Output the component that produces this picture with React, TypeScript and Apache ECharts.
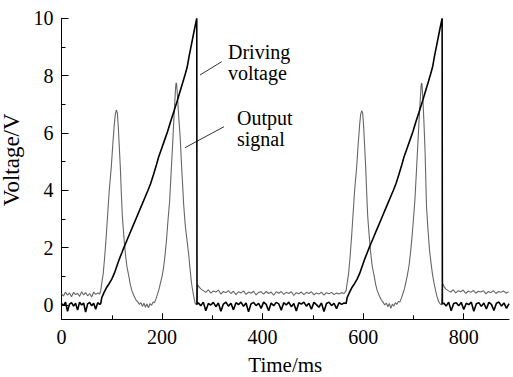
import React, { useEffect, useRef } from 'react';
import * as echarts from 'echarts';

// ---------- data ----------
const xMajorTicks = [0, 200, 400, 600, 800];
const xMinorTicks = [100, 300, 500, 700];
const yMajorTicks = [0, 2, 4, 6, 8, 10];
const yMinorTicks = [1, 3, 5, 7, 9];

const xName = 'Time/ms';
const yName = 'Voltage/V';
const drivingLabel = 'Driving\nvoltage';
const outputLabel = 'Output\nsignal';

// Driving voltage (black), [time ms, volts]
const drivingVoltage: [number, number][] = [
  [0, 0.05], [4, -0.02], [8, 0.1], [12, -0.22], [16, 0.03], [20, 0.08], [24, -0.04], [28, 0.06], [32, -0.18], [36, 0.1],
  [40, 0.0], [44, 0.07], [48, -0.25], [52, 0.04], [56, 0.09], [60, -0.03], [64, 0.06], [68, -0.15], [72, 0.08], [76, 0.02],
  [78, 0.05], [80, 0.25], [85, 0.45], [90, 0.62], [95, 0.75], [100, 0.9], [105, 1.1], [110, 1.35], [115, 1.6], [120, 1.82],
  [124, 2.0], [130, 2.25], [136, 2.5], [142, 2.75], [148, 3.0], [154, 3.25], [160, 3.5], [166, 3.75], [172, 4.0], [177, 4.22],
  [183, 4.55], [189, 4.9], [193, 5.15], [199, 5.45], [205, 5.75], [211, 6.05], [217, 6.4], [223, 6.72], [229, 7.05], [235, 7.4],
  [241, 7.75], [246, 8.05], [250, 8.3], [254, 8.7], [258, 9.05], [262, 9.4], [266, 9.75], [269, 10.0], [269.5, 0.02],
  [272, 0.08], [277, -0.03], [282, 0.1], [287, -0.2], [292, 0.05], [297, 0.0], [302, 0.09], [307, -0.06], [312, 0.07], [317, -0.22],
  [322, 0.03], [327, 0.1], [332, -0.04], [337, 0.06], [342, -0.17], [347, 0.08], [352, 0.01], [357, 0.1], [362, -0.05], [367, 0.07],
  [372, -0.24], [377, 0.04], [382, 0.09], [387, -0.02], [392, 0.06], [397, -0.12], [402, 0.1], [407, 0.02], [412, -0.2], [417, 0.07],
  [422, -0.03], [427, 0.09], [432, 0.04], [437, -0.18], [442, 0.08], [447, 0.0], [452, 0.1], [457, -0.06], [462, 0.05], [467, -0.21],
  [472, 0.08], [477, 0.03], [482, 0.1], [487, -0.04], [492, 0.06], [497, -0.15], [502, 0.09], [507, 0.01], [512, -0.08], [517, 0.07],
  [522, -0.23], [527, 0.05], [532, 0.1], [537, -0.02], [542, 0.06], [547, -0.13], [552, 0.08], [557, 0.02], [562, 0.07],
  [566, 0.05], [568, 0.25], [573, 0.45], [578, 0.62], [583, 0.75], [588, 0.9], [593, 1.1], [598, 1.35], [603, 1.6], [608, 1.82],
  [612, 2.0], [618, 2.25], [624, 2.5], [630, 2.75], [636, 3.0], [642, 3.25], [648, 3.5], [654, 3.75], [660, 4.0], [665, 4.22],
  [671, 4.55], [677, 4.9], [681, 5.15], [687, 5.45], [693, 5.75], [699, 6.05], [705, 6.4], [711, 6.72], [717, 7.05], [723, 7.4],
  [729, 7.75], [734, 8.05], [738, 8.3], [742, 8.7], [746, 9.05], [750, 9.4], [754, 9.75], [757, 10.0], [757.5, 0.03],
  [760, 0.07], [765, -0.04], [770, 0.1], [775, -0.2], [780, 0.05], [785, 0.08], [790, -0.03], [795, 0.09], [800, -0.16], [805, 0.06],
  [810, 0.01], [815, 0.1], [820, -0.22], [825, 0.04], [830, 0.08], [835, -0.05], [840, 0.07], [845, -0.14], [850, 0.09], [855, 0.02],
  [860, -0.19], [865, 0.06], [870, 0.1], [875, -0.04], [880, 0.07], [885, -0.12], [890, 0.05],
];

// Output signal (grey), [time ms, volts]
const outputSignal: [number, number][] = [
  [0, 0.4], [4, 0.31], [8, 0.45], [12, 0.34], [16, 0.42], [20, 0.29], [24, 0.44], [28, 0.36], [32, 0.41], [36, 0.3],
  [40, 0.46], [44, 0.35], [48, 0.43], [52, 0.32], [56, 0.4], [60, 0.28], [64, 0.45], [68, 0.37], [72, 0.42], [76, 0.38],
  [78, 0.5], [80, 0.75], [83, 1.1], [86, 1.7], [89, 2.4], [92, 3.2], [95, 4.0], [99, 4.8], [102, 5.6], [105, 6.3],
  [107, 6.65], [109, 6.8], [111, 6.7], [113, 6.2], [115, 5.5], [117, 4.8], [119, 3.9], [121, 3.1], [124, 2.4], [127, 1.8],
  [130, 1.35], [134, 1.0], [137, 0.7], [140, 0.5], [144, 0.32], [148, 0.18], [152, 0.1], [155, 0.02], [158, 0.08], [161, -0.05],
  [164, 0.06], [167, -0.08], [170, 0.04], [173, -0.1], [176, 0.05], [179, -0.02], [182, 0.1], [185, 0.08], [188, 0.22], [191, 0.38],
  [194, 0.55], [197, 0.78], [200, 1.0], [203, 1.3], [206, 1.75], [209, 2.3], [212, 3.0], [215, 3.6], [218, 4.6], [221, 5.6],
  [223, 6.3], [225, 7.0], [227, 7.6], [228, 7.75], [229, 7.7], [231, 7.2], [233, 6.6], [236, 5.85], [239, 4.8], [243, 3.5],
  [246, 2.8], [250, 2.2], [253, 1.75], [256, 1.2], [258, 0.85], [260, 0.6], [263, 0.3], [266, 0.05], [269, 0.0], [271, 0.7],
  [274, 0.62], [277, 0.56],
  [282, 0.5], [287, 0.44], [292, 0.53], [297, 0.41], [302, 0.49], [307, 0.45], [312, 0.52], [317, 0.38], [322, 0.47], [327, 0.43],
  [332, 0.5], [337, 0.4], [342, 0.48], [347, 0.36], [352, 0.46], [357, 0.42], [362, 0.49], [367, 0.37], [372, 0.45], [377, 0.41],
  [382, 0.48], [387, 0.35], [392, 0.44], [397, 0.46], [402, 0.38], [407, 0.47], [412, 0.4], [417, 0.45], [422, 0.34], [427, 0.46],
  [432, 0.41], [437, 0.47], [442, 0.37], [447, 0.44], [452, 0.4], [457, 0.46], [462, 0.33], [467, 0.43], [472, 0.39], [477, 0.45],
  [482, 0.36], [487, 0.44], [492, 0.4], [497, 0.46], [502, 0.35], [507, 0.42], [512, 0.38], [517, 0.45], [522, 0.34], [527, 0.43],
  [532, 0.39], [537, 0.44], [542, 0.36], [547, 0.42], [552, 0.38], [557, 0.43], [562, 0.4],
  [566, 0.5], [568, 0.75], [571, 1.1], [574, 1.7], [577, 2.4], [580, 3.2], [583, 4.0], [587, 4.8], [590, 5.6], [593, 6.3],
  [595, 6.65], [597, 6.78], [599, 6.7], [601, 6.2], [603, 5.5], [605, 4.8], [607, 3.9], [609, 3.1], [612, 2.4], [615, 1.8],
  [618, 1.35], [622, 1.0], [625, 0.7], [628, 0.5], [632, 0.32], [636, 0.18], [640, 0.08], [643, 0.0], [646, 0.07], [649, -0.06],
  [652, 0.05], [655, -0.12], [658, 0.03], [661, -0.04], [664, 0.08], [667, 0.02], [670, 0.12], [673, 0.1], [676, 0.24], [679, 0.4],
  [682, 0.56], [685, 0.8], [688, 1.05], [691, 1.35], [694, 1.8], [697, 2.35], [700, 3.0], [703, 3.7], [706, 4.7], [709, 5.7],
  [711, 6.4], [713, 7.0], [715, 7.6], [716, 7.74], [717, 7.7], [719, 7.1], [721, 6.3], [723, 5.4], [726, 3.4], [729, 2.6],
  [732, 1.9], [735, 1.45], [738, 1.05], [741, 0.75], [744, 0.5], [747, 0.28], [750, 0.12], [753, 0.04], [756, 0.0], [758, 0.75],
  [761, 0.64], [764, 0.56],
  [769, 0.5], [774, 0.45], [779, 0.53], [784, 0.42], [789, 0.5], [794, 0.46], [799, 0.52], [804, 0.4], [809, 0.49], [814, 0.44],
  [819, 0.51], [824, 0.41], [829, 0.48], [834, 0.45], [839, 0.5], [844, 0.39], [849, 0.47], [854, 0.43], [859, 0.5], [864, 0.4],
  [869, 0.47], [874, 0.44], [879, 0.49], [884, 0.41], [889, 0.46],
];

const FONT = "'Liberation Serif', 'Times New Roman', serif";

export default function App() {
  const ref = useRef<HTMLDivElement>(null);

  useEffect(() => {
    document.body.style.margin = '0';
    const chart = echarts.init(ref.current as HTMLDivElement, null, { renderer: 'svg' });

    const xMin = 0, xMax = 890, yMin = -0.5, yMax = 10;
    const lineCol = '#000';

    const option: any = {
      animation: false,
      backgroundColor: '#fff',
      grid: { left: 61.5, top: 18.3, right: 4, bottom: 57.7, outerBoundsMode: 'none', containLabel: false },
      xAxis: [
        {
          type: 'value', min: xMin, max: xMax, position: 'bottom',
          axisLine: { show: true, onZero: false, lineStyle: { color: lineCol, width: 1 } },
          axisTick: { show: true, inside: true, length: 6, customValues: xMajorTicks, lineStyle: { color: lineCol, width: 1 } },
          axisLabel: { show: true, customValues: xMajorTicks, margin: 8, color: '#000', fontFamily: FONT, fontSize: 20 },
          splitLine: { show: false },
          name: xName, nameLocation: 'middle', nameGap: 35,
          nameTextStyle: { color: '#000', fontFamily: FONT, fontSize: 21 },
        },
        {
          type: 'value', min: xMin, max: xMax, position: 'bottom', offset: 0,
          axisLine: { show: false, onZero: false },
          axisTick: { show: true, inside: true, length: 4, customValues: xMinorTicks, lineStyle: { color: lineCol, width: 1 } },
          axisLabel: { show: false },
          splitLine: { show: false },
        },
      ],
      yAxis: [
        {
          type: 'value', min: yMin, max: yMax, position: 'left',
          axisLine: { show: true, onZero: false, lineStyle: { color: lineCol, width: 1 } },
          axisTick: { show: true, inside: true, length: 7, customValues: yMajorTicks, lineStyle: { color: lineCol, width: 1 } },
          axisLabel: { show: true, customValues: yMajorTicks, margin: 8, color: '#000', fontFamily: FONT, fontSize: 20 },
          splitLine: { show: false },
          name: yName, nameLocation: 'middle', nameGap: 35,
          nameTextStyle: { color: '#000', fontFamily: FONT, fontSize: 23, padding: [0, 0, 0, 18] },
        },
        {
          type: 'value', min: yMin, max: yMax, position: 'left', offset: 0,
          axisLine: { show: false, onZero: false },
          axisTick: { show: true, inside: true, length: 4, customValues: yMinorTicks, lineStyle: { color: lineCol, width: 1 } },
          axisLabel: { show: false },
          splitLine: { show: false },
        },
      ],
      series: [
        {
          name: 'Output signal', type: 'line', xAxisIndex: 0, yAxisIndex: 0,
          data: outputSignal, symbol: 'none', z: 2,
          lineStyle: { color: '#666', width: 1.1 },
        },
        {
          name: 'Driving voltage', type: 'line', xAxisIndex: 0, yAxisIndex: 0,
          data: drivingVoltage, symbol: 'none', z: 3,
          lineStyle: { color: '#000', width: 1.6 },
        },
      ],
      graphic: [
        { type: 'line', shape: { x1: 200, y1: 75, x2: 221.7, y2: 61.7 }, style: { stroke: '#333', lineWidth: 1 } },
        { type: 'line', shape: { x1: 185, y1: 147.7, x2: 224, y2: 126.7 }, style: { stroke: '#333', lineWidth: 1 } },
        {
          type: 'text', x: 228, y: 41,
          style: { text: drivingLabel, fill: '#000', font: `20px ${FONT}`, lineHeight: 21, verticalAlign: 'top' },
        },
        {
          type: 'text', x: 237, y: 107,
          style: { text: outputLabel, fill: '#000', font: `20px ${FONT}`, lineHeight: 21, verticalAlign: 'top' },
        },
      ],
    };

    chart.setOption(option);
    return () => chart.dispose();
  }, []);

  return <div ref={ref} style={{ position: 'absolute', left: 0, top: 0, width: 513, height: 377 }} />;
}
